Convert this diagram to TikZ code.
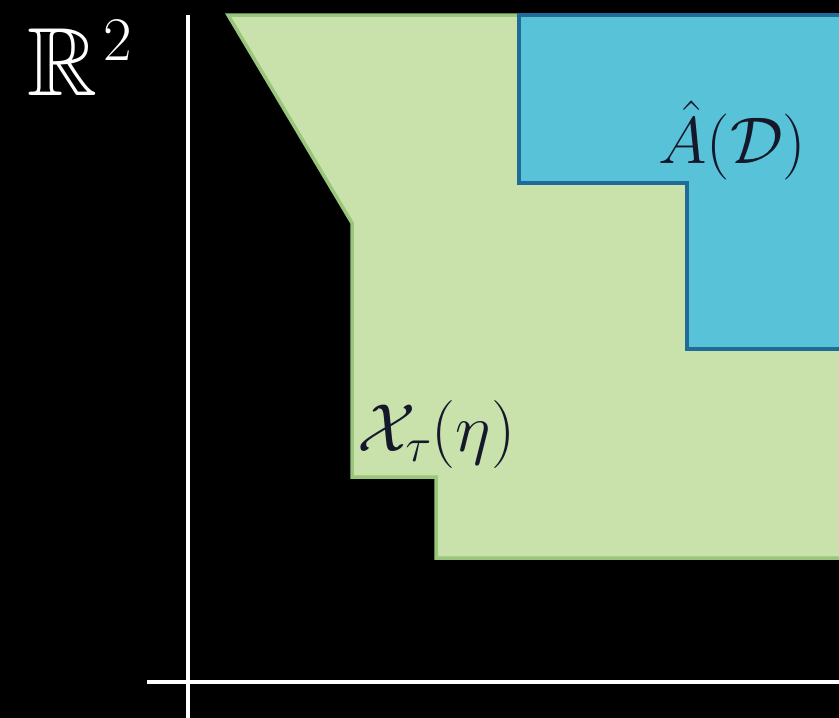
\RequirePackage{fix-cm}
\documentclass[tikz,border=0pt]{standalone}
\usepackage{amssymb}
\definecolor{gfill}{HTML}{C9E1AB}
\definecolor{gedge}{HTML}{98C67A}
\definecolor{bfill}{HTML}{58C3D8}
\definecolor{bedge}{HTML}{1F6C98}
\definecolor{labelink}{HTML}{15182A}
\tikzset{
  region/.style={line width=3.5pt, line join=miter},
  axis/.style={draw=white, line width=4.5pt},
  setlabel/.style={anchor=base west, inner sep=0pt, text=labelink},
}
\begin{document}
\begin{tikzpicture}[x=1pt,y=-1pt]
\useasboundingbox (0,0) rectangle (839,718);
\fill[black] (0,0) rectangle (839,718);
\begin{scope}
\clip (0,0) rectangle (839,718);
% green region
\draw[region, fill=gfill, draw=gedge] (228,15) -- (352,223) -- (352,477) -- (436,477) -- (436,558) -- (860,558) -- (860,15) -- cycle;
% blue region
\draw[region, line width=4pt, fill=bfill, draw=bedge] (519,15) -- (519,183) -- (687,183) -- (687,349) -- (860,349) -- (860,15) -- cycle;
\end{scope}
% axes
\coordinate (ytop) at (188,15);
\coordinate (ybot) at (188,718);
\coordinate (xl) at (147,682);
\coordinate (xr) at (839,682);
\draw[axis] (ytop) -- (ybot);
\draw[axis] (xl) -- (xr);
% labels
\node[anchor=base west, inner sep=0pt, text=white, font=\fontsize{97}{110}\selectfont] (rtwo) at (27,95) {$\mathbb{R}$\kern6pt\raisebox{35pt}{\fontsize{62}{70}\selectfont 2}};
\node[setlabel, font=\fontsize{66}{80}\selectfont] (ahat) at (658,163) {$\hat{A}(\mathcal{D})$};
\node[setlabel, font=\fontsize{68}{82}\selectfont] (xtau) at (357,451) {$\mathcal{X}_\tau(\eta)$};
\end{tikzpicture}
\end{document}
